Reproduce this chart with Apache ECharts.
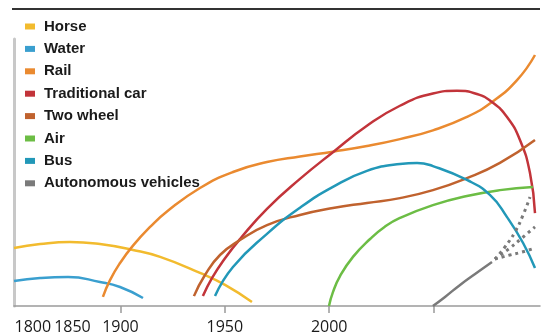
<!DOCTYPE html>
<html>
<head>
<meta charset="utf-8">
<script src="https://cdn.jsdelivr.net/npm/echarts@6/dist/echarts.min.js"></script>
<style>
	html, body { margin: 0; padding: 0; background: #fff; }
	#chart { width: 543px; height: 336px; }
</style>
</head>
<body>
<div id="chart"></div>
<script>
// [year, share] pairs
var horse = [[1849, 21.7], [1861.5, 23.2], [1875.8, 24.0], [1890.2, 23.2], [1906, 21.0], [1919, 18.4], [1938.1, 12.4], [1950.1, 7.9], [1963, 1.5]];
var water = [[1849, 9.4], [1861.5, 10.5], [1874.9, 10.9], [1890.2, 9.0], [1899.8, 7.1], [1910.8, 3.0]];
var rail = [[1891.6, 3.4], [1895, 9.7], [1899.8, 16.1], [1906, 22.6], [1914.2, 29.6], [1922.3, 35.4], [1938.1, 44.2], [1953.9, 50.2], [1970.2, 53.9], [1986, 56.0], [2001.8, 57.8], [2018.1, 59.9], [2033.9, 62.5], [2049.7, 65.8], [2066, 70.8], [2078, 76.4], [2090, 84.6], [2098.6, 94.0]];
var car = [[1939.5, 3.7], [1943.9, 10.5], [1950.1, 17.9], [1957.3, 25.1], [1970.2, 36.4], [1986, 47.6], [2001.8, 57.6], [2018.1, 67.5], [2033.9, 75.0], [2049.7, 79.6], [2061.2, 80.6], [2070.8, 79.4], [2078, 76.4], [2085.2, 70.8], [2091.4, 62.2], [2096.2, 49.8], [2098.6, 34.8]];
var twoWheel = [[1935.2, 3.7], [1940.5, 11.6], [1947.7, 19.1], [1957.3, 24.7], [1970.2, 30.3], [1986, 34.1], [2001.8, 36.7], [2018.1, 38.6], [2033.9, 40.4], [2049.7, 43.4], [2066, 47.9], [2081.8, 53.6], [2098.6, 62.2]];
var air = [[1999.9, 0], [2001.8, 5.2], [2005.2, 11.2], [2011.4, 18.4], [2019.6, 25.1], [2026.5, 29.6], [2033.9, 33.0], [2049.7, 37.8], [2066, 41.2], [2081.8, 43.4], [2097.6, 44.6]];
var bus = [[1945.3, 3.7], [1953.9, 14.6], [1970.2, 27.0], [1986, 36.8], [2001.8, 44.6], [2018.1, 50.6], [2033.9, 53.2], [2042.1, 53.6], [2049.7, 52.4], [2066, 47.2], [2077, 41.6], [2085.2, 33.3], [2092.9, 23.6], [2098.6, 14.2]];
var auto = [[2049.7, 0], [2055.5, 3.4], [2062.7, 7.9], [2069.9, 12.0], [2078, 16.5]];
// dotted forecasts fanning out of the autonomous line
var autoHigh = [[2079.4, 17.6], [2084.2, 22.1], [2089, 27.7], [2092.9, 34.1], [2096.2, 40.8]];
var autoMid = [[2079.4, 17.6], [2086.6, 21.7], [2092.4, 25.5], [2098.6, 29.6]];
var autoLow = [[2079.4, 17.6], [2086.6, 19.1], [2092.4, 20.2], [2098.6, 21.7]];

var tickYears = [1900, 1950, 2000, 2050];
// the left labels are squeezed in, not on the linear scale
var labelPos = [1858, 1877, 1900, 1950, 2000];
var labelText = ['1800', '1850', '1900', '1950', '2000'];

var colors = {
	'Horse': '#f2bb2e',
	'Water': '#3a9fcf',
	'Rail': '#ea8a30',
	'Traditional car': '#c2343a',
	'Two wheel': '#c0622e',
	'Air': '#6cbd45',
	'Bus': '#2298b8',
	'Autonomous vehicles': '#7a7a7a'
};

function line(name, data, dashed){
	return {
		name: name,
		type: 'line',
		data: data,
		smooth: 0.5,
		showSymbol: false,
		symbol: 'none',
		silent: true,
		lineStyle: {
			color: colors[name],
			width: dashed ? 3 : 2.5,
			type: dashed ? [3, 4] : 'solid'
		},
		itemStyle: { color: colors[name] }
	};
}

var chart = echarts.init(document.getElementById('chart'));
chart.setOption({
	animation: false,
	backgroundColor: '#fff',
	graphic: [{
		type: 'rect',
		left: 12, top: 8,
		shape: { width: 528, height: 2 },
		style: { fill: '#333' }
	}],
	legend: {
		orient: 'vertical',
		left: 20, top: 14,
		icon: 'rect',
		itemWidth: 10,
		itemHeight: 6,
		itemGap: 7.4,
		textStyle: {
			fontFamily: 'Liberation Sans',
			fontSize: 15,
			fontWeight: 'bold',
			color: '#1a1a1a',
			padding: [0, 0, 0, 4]
		},
		data: ['Horse', 'Water', 'Rail', 'Traditional car', 'Two wheel', 'Air', 'Bus', 'Autonomous vehicles']
	},
	grid: { left: 14, right: 3, top: 39, bottom: 30 },
	xAxis: {
		type: 'value',
		min: 1849,
		max: 2101,
		splitLine: { show: false },
		axisLine: { lineStyle: { color: '#9a9a9a', width: 1.5 } },
		axisTick: {
			customValues: tickYears,
			length: 7,
			lineStyle: { color: '#9a9a9a', width: 1.5 }
		},
		axisLabel: {
			customValues: labelPos,
			margin: 13,
			fontFamily: 'Open Sans',
			fontSize: 16,
			fontWeight: 500,
			color: '#1a1a1a',
			formatter: function(v){
				var i = labelPos.indexOf(v);
				return i >= 0 ? labelText[i] : '';
			}
		}
	},
	yAxis: {
		type: 'value',
		min: 0,
		max: 100,
		splitLine: { show: false },
		axisTick: { show: false },
		axisLabel: { show: false },
		axisLine: { show: true, lineStyle: { color: '#c8c8c8', width: 3 } }
	},
	series: [
		line('Horse', horse),
		line('Water', water),
		line('Rail', rail),
		line('Traditional car', car),
		line('Two wheel', twoWheel),
		line('Air', air),
		line('Bus', bus),
		line('Autonomous vehicles', auto),
		line('Autonomous vehicles', autoHigh, true),
		line('Autonomous vehicles', autoMid, true),
		line('Autonomous vehicles', autoLow, true)
	]
});
</script>
</body>
</html>
